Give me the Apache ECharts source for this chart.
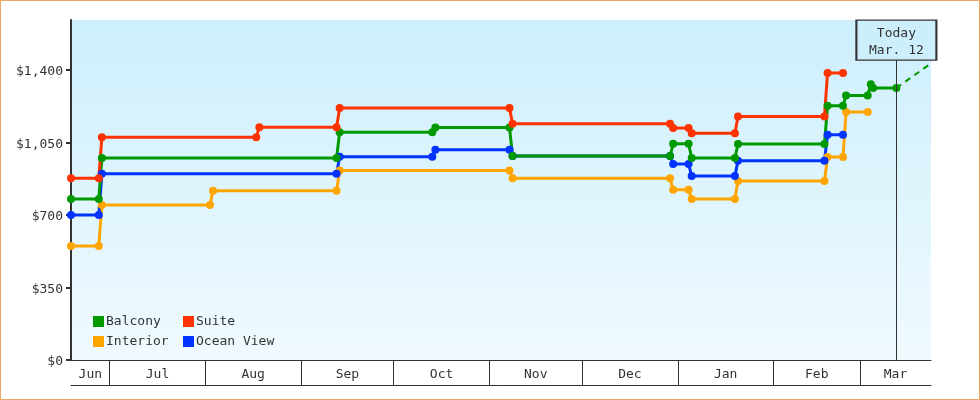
<!DOCTYPE html>
<html><head><meta charset="utf-8">
<script src="https://cdn.jsdelivr.net/npm/echarts@6/dist/echarts.min.js"></script>
<style>
html,body{margin:0;padding:0;background:#fff;}
#frame{width:980px;height:400px;box-sizing:border-box;border:1px solid #e8a866;background:#fff;}
#chart{width:978px;height:398px;}
</style></head><body>
<div id="frame"><div id="chart"></div></div>
<script>
// ---------------- DATA ----------------
const X_MIN = '2014-06-18 12:00';
const X_MAX = '2015-03-24 00:00';
const TODAY = '2015-03-12 19:00';
const TODAY_TEXT = 'Today\nMar. 12';
const monthStarts = ['2014-06-01','2014-07-01','2014-08-01','2014-09-01','2014-10-01','2014-11-01','2014-12-01','2015-01-01','2015-02-01','2015-03-01','2015-04-01'];
const monthNames = ['Jun','Jul','Aug','Sep','Oct','Nov','Dec','Jan','Feb','Mar'];
const yTicks = [0, 350, 700, 1050, 1400];
const Y_MAX = 1640;

const seriesNames = ['Balcony', 'Suite', 'Interior', 'Ocean View'];

const interior = [
  ['2014-06-18 12:00', 550], ['2014-06-27 12:00', 550], ['2014-06-28 12:00', 748],
  ['2014-08-02 12:00', 748], ['2014-08-03 12:00', 816], ['2014-09-12 12:00', 816],
  ['2014-09-13 12:00', 914], ['2014-11-07 12:00', 914], ['2014-11-08 12:00', 877],
  ['2014-12-29 12:00', 877], ['2014-12-30 12:00', 821], ['2015-01-04 12:00', 821],
  ['2015-01-05 12:00', 776], ['2015-01-19 12:00', 776], ['2015-01-20 12:00', 864],
  ['2015-02-17 12:00', 864], ['2015-02-18 12:00', 979], ['2015-02-23 12:00', 979],
  ['2015-02-24 12:00', 1196], ['2015-03-03 12:00', 1196]
];
const oceanView = [
  ['2014-06-18 12:00', 699], ['2014-06-27 12:00', 699], ['2014-06-28 12:00', 898],
  ['2014-09-12 12:00', 898], ['2014-09-13 12:00', 980], ['2014-10-13 12:00', 980],
  ['2014-10-14 12:00', 1014], ['2014-11-07 12:00', 1014], ['2014-11-08 12:00', 984],
  ['2014-12-29 12:00', 984], ['2014-12-30 12:00', 945], ['2015-01-04 12:00', 945],
  ['2015-01-05 12:00', 888], ['2015-01-19 12:00', 888], ['2015-01-20 12:00', 961],
  ['2015-02-17 12:00', 961], ['2015-02-18 12:00', 1086], ['2015-02-23 12:00', 1086]
];
const balcony = [
  ['2014-06-18 12:00', 777], ['2014-06-27 12:00', 777], ['2014-06-28 12:00', 974],
  ['2014-09-12 12:00', 974], ['2014-09-13 12:00', 1099], ['2014-10-13 12:00', 1099],
  ['2014-10-14 12:00', 1122], ['2014-11-07 12:00', 1122], ['2014-11-08 12:00', 984],
  ['2014-12-29 12:00', 984], ['2014-12-30 12:00', 1043], ['2015-01-04 12:00', 1043],
  ['2015-01-05 12:00', 974], ['2015-01-19 12:00', 974], ['2015-01-20 12:00', 1042],
  ['2015-02-17 12:00', 1042], ['2015-02-18 12:00', 1226], ['2015-02-23 12:00', 1226],
  ['2015-02-24 12:00', 1276], ['2015-03-03 12:00', 1276], ['2015-03-04 12:00', 1330],
  ['2015-03-05 06:00', 1312], ['2015-03-12 19:00', 1312]
];
const suite = [
  ['2014-06-18 12:00', 877], ['2014-06-27 12:00', 877], ['2014-06-28 12:00', 1075],
  ['2014-08-17 12:00', 1075], ['2014-08-18 12:00', 1123], ['2014-09-12 12:00', 1123],
  ['2014-09-13 12:00', 1215], ['2014-11-07 12:00', 1215], ['2014-11-08 12:00', 1139],
  ['2014-12-29 12:00', 1139], ['2014-12-30 12:00', 1119], ['2015-01-04 12:00', 1119],
  ['2015-01-05 12:00', 1094], ['2015-01-19 12:00', 1094], ['2015-01-20 12:00', 1175],
  ['2015-02-17 12:00', 1175], ['2015-02-18 12:00', 1384], ['2015-02-23 12:00', 1384]
];
const balconyProjection = [['2015-03-12 19:00', 1312], ['2015-03-24 00:00', 1431]];
const todayBoxValue = 1543;

// ---------------- RENDER ----------------
const FONT = '"DejaVu Sans Mono", monospace';
const COLORS = { 'Balcony': '#009900', 'Suite': '#ff3300', 'Interior': '#ffa500', 'Ocean View': '#0033ff' };

function ts(s) {
  const parts = s.split(' ');
  const d = parts[0].split('-').map(Number);
  const t = (parts[1] || '00:00').split(':').map(Number);
  return new Date(d[0], d[1] - 1, d[2], t[0], t[1]).getTime();
}
const xMin = ts(X_MIN), xMax = ts(X_MAX), today = ts(TODAY);
const starts = monthStarts.map(ts);
const tickVals = starts.filter(v => v > xMin && v < xMax);
const mids = [];
for (let i = 0; i < monthNames.length; i++) {
  const a = Math.max(starts[i], xMin), b = Math.min(starts[i + 1], xMax);
  mids.push((a + b) / 2);
}
function monthLabel(v) {
  let best = 0, bd = Infinity;
  mids.forEach((m, i) => { const d = Math.abs(m - v); if (d < bd) { bd = d; best = i; } });
  return monthNames[best];
}
const conv = arr => arr.map(p => [ts(p[0]), p[1]]);

function priceSeries(name, arr) {
  return {
    name: name, type: 'line', data: conv(arr),
    symbol: 'circle', symbolSize: 8, showSymbol: true, showAllSymbol: true,
    lineStyle: { width: 3, color: COLORS[name] },
    itemStyle: { color: COLORS[name] },
    emphasis: { disabled: true },
    animation: false
  };
}

const textBase = { color: '#333', fontFamily: FONT, fontSize: 13 };

const option = {
  animation: false,
  grid: {
    left: 70, right: 48, top: 19, bottom: 39, show: true, borderWidth: 0,
    backgroundColor: new echarts.graphic.LinearGradient(0, 0, 0, 1, [
      { offset: 0, color: '#cdeffc' }, { offset: 1, color: '#f0fafe' }
    ])
  },
  legend: [
    { data: ['Balcony', 'Interior'], orient: 'vertical', left: 92, top: 314, padding: 0,
      icon: 'rect', itemWidth: 11, itemHeight: 11, itemGap: 7,
      textStyle: Object.assign({ padding: [1, 0, 0, -3] }, textBase), selectedMode: false },
    { data: ['Suite', 'Ocean View'], orient: 'vertical', left: 182, top: 314, padding: 0,
      icon: 'rect', itemWidth: 11, itemHeight: 11, itemGap: 7,
      textStyle: Object.assign({ padding: [1, 0, 0, -3] }, textBase), selectedMode: false }
  ],
  xAxis: [
    { type: 'value', min: xMin, max: xMax, position: 'bottom', scale: true,
      axisLine: { show: true, onZero: false, lineStyle: { color: '#333', width: 1 } },
      axisTick: { show: true, customValues: tickVals, length: 25, lineStyle: { color: '#333', width: 1 } },
      axisLabel: Object.assign({ customValues: mids, margin: 8, formatter: v => monthLabel(v) }, textBase),
      splitLine: { show: false }
    },
    { type: 'value', min: xMin, max: xMax, position: 'bottom', offset: 25, scale: true,
      axisLine: { show: true, onZero: false, lineStyle: { color: '#333', width: 1 } },
      axisTick: { show: false }, axisLabel: { show: false }, splitLine: { show: false }
    }
  ],
  yAxis: {
    type: 'value', min: 0, max: Y_MAX,
    axisLine: { show: true, lineStyle: { color: '#333', width: 2 } },
    axisTick: { show: true, customValues: yTicks, length: 5, lineStyle: { color: '#333', width: 2 } },
    axisLabel: Object.assign({ customValues: yTicks, margin: 8,
      formatter: v => '{v|$' + Number(v).toLocaleString('en-US') + '}',
      rich: { v: Object.assign({ padding: [4, 0, 0, 0] }, textBase) } }, textBase),
    splitLine: { show: false }
  },
  series: [
    {
      name: 'Projection', type: 'line', data: conv(balconyProjection),
      symbol: 'none', lineStyle: { width: 2, color: COLORS['Balcony'], type: [6, 5] },
      emphasis: { disabled: true }, silent: true,
      markLine: {
        silent: true, symbol: ['none', 'none'], label: { show: false },
        lineStyle: { color: '#333', width: 1, type: 'solid' },
        data: [[{ coord: [today, 0] }, { coord: [today, todayBoxValue] }]]
      },
      markPoint: {
        silent: true,
        data: [{ coord: [today, todayBoxValue], symbol: 'rect', symbolSize: [80, 40] }],
        itemStyle: { color: '#cdeffc', borderColor: '#333', borderWidth: 1.5 },
        label: Object.assign({ show: true, position: 'inside', formatter: TODAY_TEXT, lineHeight: 17, offset: [0, 2] }, textBase)
      }
    },
    priceSeries('Interior', interior),
    priceSeries('Ocean View', oceanView),
    priceSeries('Balcony', balcony),
    priceSeries('Suite', suite)
  ]
};

const chart = echarts.init(document.getElementById('chart'), null, { renderer: 'canvas' });
chart.setOption(option);
</script>
</body></html>
